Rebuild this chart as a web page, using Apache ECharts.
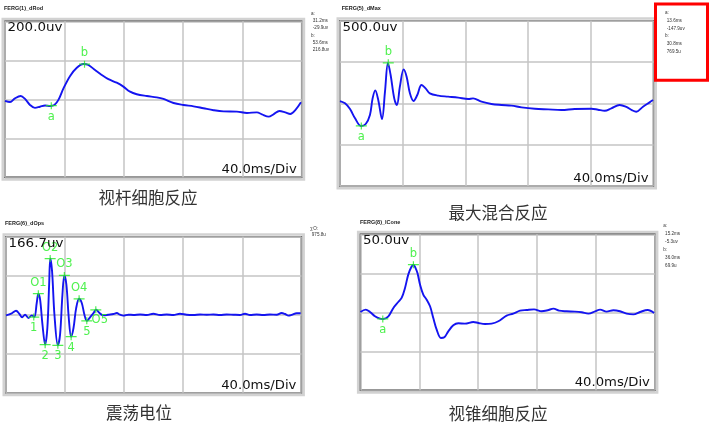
<!DOCTYPE html>
<html><head><meta charset="utf-8">
<script src="https://cdn.jsdelivr.net/npm/echarts@6/dist/echarts.min.js"></script>
<style>html,body{margin:0;padding:0;background:#fff}#c{width:709px;height:433px}</style>
</head><body><div id="c"></div>
<script>
// ---------- data (ms, uv) ----------
const rodTime = [0,3.4,6.7,10.6,13.5,16.9,20.2,23.6,27,30.4,33.3,36,39.4,43.9,48.4,52.9,56.2,60.7,65.2,69.7,75.3,79.8,84.3,88.8,95.6,102.3,106.8,113.6,120.3,127.1,133.8,140.6,147.3,156.3,163.1,169.8,173.2,177.7,181,185,188.9,192.3,195.7,199.5];
const rodUv   = [-8,-14,5,17,2,-29,-44,-38,-32,-34,-29,-3,56,120,162,181,176,150,125,103,85,65,39,26,17,10,2,-19,-29,-36,-46,-56,-62,-63,-70,-67,-77,-89,-77,-60,-67,-75,-55,-15];

const maxTime = [0,3.2,6.4,9.6,13.4,16.4,19.1,20.8,22.5,24.4,26.8,28.7,30.6,32.3,34.6,36.3,38.2,40.6,42.5,44.6,46.9,49.3,52,54.6,57.3,62.7,69,75.4,81.8,84.9,90.3,96.6,103,109.4,115.8,124.3,132.8,141.2,149.7,160.4,164.6,168.9,173.1,178.4,182.7,186.5,189,193.3,197.5,199.7];
const maxUv   = [28,0,-69,-181,-274,-250,-141,60,157,40,-190,141,488,343,60,-20,202,411,323,121,28,101,222,181,121,93,81,69,52,60,20,-8,-20,-28,-48,-65,-73,-81,-69,-65,-77,-89,-60,-20,-44,-85,-101,-40,12,40];

const opsTime = [0,3.9,6.8,9.1,10.9,12.9,15.2,17.4,19.2,20.8,21.9,23.1,24.7,26.5,28.0,29.2,30.0,31.2,32.8,35.1,36.6,38.2,39.5,40.9,42.5,44.1,45.7,47.5,49.5,51.3,53.1,54.7,56.9,59.2,61,63.3,66,69.3,72.7,75,77.2,79.5,82.9,86.2,90.8,95.3,99.8,104.3,108.8,113.3,117.8,122.3,126.9,131.4,135.9,140.4,144.9,149.4,153.9,158.4,161.8,165.2,169.7,174.2,178.7,183.3,186.6,188.9,191.2,193.4,196.8,199.5];
const opsUv   = [-3,6,17,3,-11,0,-14,-3,-9,50,90,64,-43,-128,-57,128,240,185,0,-131,-85,85,168,128,-14,-94,-57,28,68,50,0,-26,-11,7,21,7,-3,0,3,7,0,-4,0,-1,1,-1,4,-1,1,-1,4,0,-1,1,0,1,-1,1,0,-1,4,-1,1,-1,1,0,7,3,-4,-1,6,6];

const coneTime = [0,3.6,6.5,9.9,13.3,15.4,19,22.4,25.7,28,30.3,32.5,34.6,36.0,37.4,38.8,40.5,42.7,45,47.3,49.5,51.8,54.7,57,59.7,63.1,66.5,71,76.7,80.1,84.6,89.1,93.7,99.3,103.8,108.4,112.9,117.9,123.1,127.2,131.1,134.9,140.1,145.7,150.3,154.8,159.4,162.8,167.2,171.8,176.3,180.8,185.4,189.9,195.1,199.5];
const coneUv   = [0.4,3.4,0.4,-5.1,-8.1,-8.5,-5.1,5.6,13.2,18.4,31.2,48.3,58,61,57,50,35.5,22.7,16.2,7.7,-7.3,-22.2,-32.9,-32,-24.4,-16.7,-14.1,-14.5,-12.4,-13.7,-15,-14.5,-11.5,-4.3,-1.7,2.1,3,3.8,1.3,2.6,4.7,2.1,1.3,0.9,0,-1.7,1.3,3.4,0.9,2.6,1.3,-1.7,-2.6,0.4,3,-0.9];

// markers
const rodMarkNames = ['a','b'];
const rodMarkTime  = [31.2,53.6];
const rodMarkUv    = [-33,180];
const maxMarkNames = ['a','b'];
const maxMarkTime  = [13.6,30.8];
const maxMarkUv    = [-274,490];
const opsMarkNames = ['O1','O2','O3','O4','O5','1','2','3','4','5'];
const opsMarkTime  = [21.9,29.9,39.5,49.5,60.8,18.8,26.5,35.1,44.1,54.7];
const opsMarkUv    = [90,240,168,68,21,-10,-128,-131,-94,-26];
const coneMarkNames = ['a','b'];
const coneMarkTime  = [15.2,36.0];
const coneMarkUv    = [-8.5,61];

// texts
const panelNames = ['FERG(1)_dRod','FERG(5)_dMax','FERG(6)_dOps','FERG(8)_lCone'];
const captions   = ['视杆细胞反应','最大混合反应','震荡电位','视锥细胞反应'];
const ampLabels  = ['200.0uv','500.0uv','166.7uv','50.0uv'];
const ampPerDiv  = [200,500,166.7,50];
const timeLabel  = '40.0ms/Div';
const msPerDiv   = 40;
const rodInfo  = ['a:','31.2ms','-29.9uv','b:','53.6ms','216.8uv'];
const maxInfo  = ['a:','13.6ms','-147.9uv','b:','30.8ms','769.5u'];
const opsInfo  = ['∑O:','975.8u'];
const coneInfo = ['a:','15.2ms','-5.3uv','b:','36.0ms','69.9u'];

// ---------- layout ----------
const boxes = [
  {left:5,     top:21.3,  width:296.7, height:156},
  {left:340,   top:20.7,  width:313.5, height:165.3},
  {left:6,     top:236.7, width:295.4, height:156},
  {left:360.4, top:234.3, width:294.5, height:156}
];
const titlePos = [[4,8.3],[341.7,8.2],[5,223.8],[360,222.5]];
const captionPos = [[148,198],[498,213],[139,413],[498,414]];
const infoPos = [
  {x:311, y:13.3, step:7.35, lines:rodInfo},
  {x:665, y:12.7, step:7.8, lines:maxInfo},
  {x:310, y:228.3, step:6.8, lines:opsInfo},
  {x:663.3, y:226, step:7.9, lines:coneInfo}
];

const series = [[rodTime,rodUv],[maxTime,maxUv],[opsTime,opsUv],[coneTime,coneUv]];
const marks = [
  [rodMarkNames,rodMarkTime,rodMarkUv],
  [maxMarkNames,maxMarkTime,maxMarkUv],
  [opsMarkNames,opsMarkTime,opsMarkUv],
  [coneMarkNames,coneMarkTime,coneMarkUv]
];

const GREEN = '#22ee22';
const BLUE = '#1414f0';
const plusPath = 'path://M0,3H12V4.3H0Z M5.35,0H6.65V7.3H5.35Z';

const grids = [], xAxes = [], yAxes = [], allSeries = [], graphics = [];

boxes.forEach((b,i) => {
  grids.push({left:b.left, top:b.top, width:b.width, height:b.height, show:true,
    borderColor:'#333', borderWidth:1.5, backgroundColor:'#fff'});
  const split = {show:true, lineStyle:{color:'#c4c4c4', width:1.5}};
  xAxes.push({type:'value', gridIndex:i, min:0, max:5*msPerDiv, interval:msPerDiv,
    axisLine:{show:false}, axisTick:{show:false}, axisLabel:{show:false}, splitLine:split});
  const d = ampPerDiv[i];
  yAxes.push({type:'value', gridIndex:i, min:-2*d, max:2*d, interval:d,
    axisLine:{show:false}, axisTick:{show:false}, axisLabel:{show:false}, splitLine:split});
  const [tt,vv] = series[i];
  allSeries.push({type:'line', xAxisIndex:i, yAxisIndex:i, data:tt.map((t,k)=>[t,vv[k]]),
    symbol:'none', smooth:0.35, lineStyle:{color:BLUE, width:1.9}, z:3, silent:true});
  const [nm,mt,mv] = marks[i];
  allSeries.push({type:'scatter', xAxisIndex:i, yAxisIndex:i, z:4, silent:true,
    symbol:plusPath, symbolSize:[11,7], itemStyle:{color:GREEN},
    data:nm.map((n,k)=>{
      const up = n[0]==='O' && n!=='O5' || n==='b';
      const lab = {show:true, position: up?'top':'bottom', distance:1.5,
        formatter:'{b}', color:GREEN, fontSize:11.5, fontFamily:'DejaVu Sans'};
      if (n==='O5') lab.offset=[4,-1];
      return {name:n, value:[mt[k],mv[k]], label:lab};
    })
  });

  // frame
  graphics.push({type:'rect', silent:true, z:-1,
    shape:{x:b.left-2.2, y:b.top-2.2, width:b.width+4.4, height:b.height+4.4},
    style:{fill:'none', stroke:'#d2d2d2', lineWidth:2.6}});
  // amplitude label
  graphics.push({type:'text', silent:true, z:10, x:b.left+2.5, y:b.top+1, scaleX:1.12,
    style:{text:ampLabels[i], fill:'#111', fontSize:12, fontFamily:'DejaVu Sans',
      align:'left', verticalAlign:'top', textAlign:'left', textVerticalAlign:'top'}});
  // time label
  graphics.push({type:'text', silent:true, z:10, x:b.left+b.width-5, y:b.top+b.height-1.2, scaleX:1.1,
    style:{text:timeLabel, fill:'#111', fontSize:12, fontFamily:'DejaVu Sans',
      align:'right', verticalAlign:'bottom', textAlign:'right', textVerticalAlign:'bottom'}});
  // panel title
  graphics.push({type:'text', silent:true, x:titlePos[i][0], y:titlePos[i][1],
    style:{text:panelNames[i], fill:'#222', fontSize:5.5, fontWeight:'bold', fontFamily:'Liberation Sans',
      align:'left', verticalAlign:'middle', textAlign:'left', textVerticalAlign:'middle'}});
  // caption
  graphics.push({type:'text', silent:true, x:captionPos[i][0], y:captionPos[i][1],
    style:{text:captions[i], fill:'#333', fontSize:16.5, fontFamily:'Noto Sans CJK SC',
      align:'center', verticalAlign:'middle', textAlign:'center', textVerticalAlign:'middle'}});
  // info lines
  const ip = infoPos[i];
  ip.lines.forEach((s,k)=>{
    const isHead = s.endsWith(':');
    graphics.push({type:'text', silent:true, x:ip.x + (isHead?0:1.8), y:ip.y + k*ip.step,
      style:{text:s, fill:'#333', fontSize:4.6, fontFamily:'Liberation Sans',
        align:'left', verticalAlign:'middle', textAlign:'left', textVerticalAlign:'middle'}});
  });
});

// red highlight box
graphics.push({type:'rect', silent:true, z:20,
  shape:{x:655.5, y:4, width:52, height:76.3},
  style:{fill:'none', stroke:'#ff0000', lineWidth:3}});

const chart = echarts.init(document.getElementById('c'), null, {renderer:'canvas'});
chart.setOption({
  animation:false,
  backgroundColor:'#fff',
  grid:grids, xAxis:xAxes, yAxis:yAxes, series:allSeries,
  graphic:{elements:graphics}
});
</script></body></html>
